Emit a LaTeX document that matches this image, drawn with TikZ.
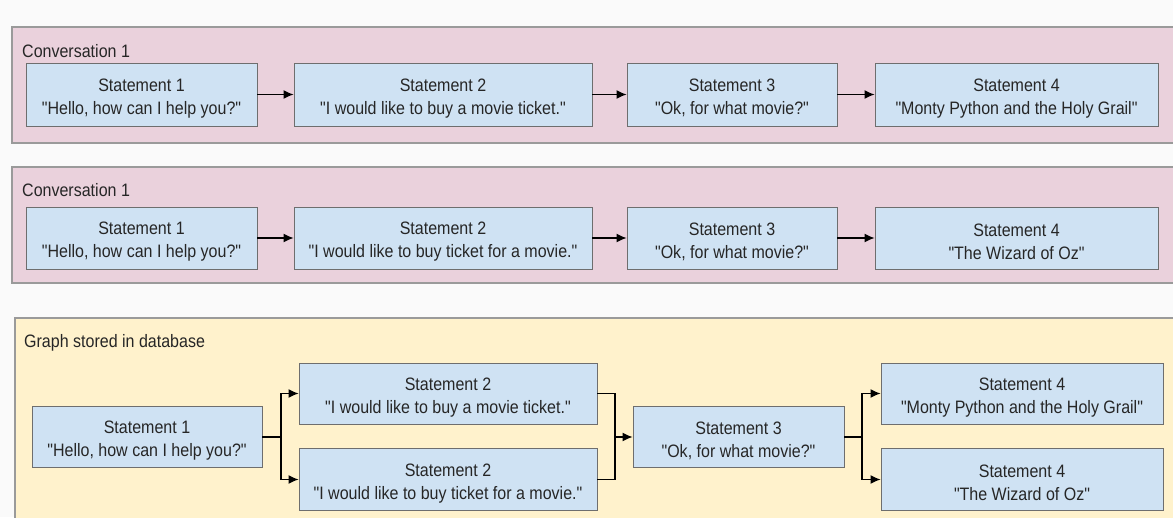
\documentclass[tikz,border=0pt]{standalone}
\usepackage{fontspec}
\setmainfont{Liberation Sans}[FakeStretch=0.89, Ligatures=TeXOff]
\usetikzlibrary{arrows.meta}
\newcommand{\dq}{\char34\relax}
\newcommand{\stmt}[2]{\rule{0pt}{20pt}#1\\\dq #2\dq}
\definecolor{bgc}{HTML}{FAFAFA}
\definecolor{pinkfill}{HTML}{EAD1DC}
\definecolor{yellowfill}{HTML}{FFF2CC}
\definecolor{panelline}{HTML}{9A9A9A}
\definecolor{boxfill}{HTML}{CFE2F3}
\definecolor{boxline}{HTML}{6E6E6E}
\definecolor{txt}{HTML}{262626}
\tikzset{
  panel/.style={draw=panelline, line width=1.2pt},
  stbox/.style={draw=boxline, fill=boxfill, line width=0.9pt, inner sep=0pt,
    align=center, text=txt, font=\fontsize{18}{23}\selectfont},
  lbl/.style={anchor=base west, inner sep=0pt, text=txt, font=\fontsize{18}{21}\selectfont},
  arr/.style={draw=black, line width=1.3pt, -{Latex[length=10pt,width=9pt]}},
  conn/.style={draw=black, line width=1.3pt},
}
\begin{document}
\begin{tikzpicture}[x=1pt,y=-1pt]
\useasboundingbox (0,0) rectangle (1173,517);
\clip (0,0) rectangle (1173,517);
\fill[bgc] (0,0) rectangle (1173,517);
% panels
\draw[panel, fill=pinkfill] (12,27) rectangle (1185,143);
\draw[panel, fill=pinkfill] (12,167) rectangle (1185,283);
\draw[panel, fill=yellowfill] (15,318) rectangle (1185,540);
\node[lbl] (l1) at (22,57) {Conversation 1};
\node[lbl] (l2) at (22,196) {Conversation 1};
\node[lbl] (l3) at (24,347) {Graph stored in database};
% conversation 1
\node[stbox, minimum width=231pt, minimum height=63pt] (a1) at (141.5,94.5) {\stmt{Statement 1}{Hello, how can I help you?}};
\node[stbox, minimum width=298pt, minimum height=63pt] (a2) at (443,94.5) {\stmt{Statement 2}{I would like to buy a movie ticket.}};
\node[stbox, minimum width=210pt, minimum height=63pt] (a3) at (732,94.5) {\stmt{Statement 3}{Ok, for what movie?}};
\node[stbox, minimum width=283pt, minimum height=63pt] (a4) at (1016.5,94.5) {\stmt{Statement 4}{Monty Python and the Holy Grail}};
\draw[arr] (a1) -- (a2);
\draw[arr] (a2) -- (a3);
\draw[arr] (a3) -- (a4);
% conversation 2
\node[stbox, minimum width=231pt, minimum height=62pt] (b1) at (141.5,238) {\stmt{Statement 1}{Hello, how can I help you?}};
\node[stbox, minimum width=298pt, minimum height=62pt] (b2) at (443,238) {\stmt{Statement 2}{I would like to buy ticket for a movie.}};
\node[stbox, minimum width=210pt, minimum height=62pt] (b3) at (732,238) {\stmt{Statement 3}{Ok, for what movie?}};
\node[stbox, minimum width=283pt, minimum height=62pt] (b4) at (1016.5,238) {\stmt{Statement 4}{The Wizard of Oz}};
\draw[arr] (b1) -- (b2);
\draw[arr] (b2) -- (b3);
\draw[arr] (b3) -- (b4);
% graph
\node[stbox, minimum width=230pt, minimum height=61pt] (c1) at (147,437) {\stmt{Statement 1}{Hello, how can I help you?}};
\node[stbox, minimum width=298pt, minimum height=61pt] (c2a) at (448,393.5) {\stmt{Statement 2}{I would like to buy a movie ticket.}};
\node[stbox, minimum width=298pt, minimum height=62pt] (c2b) at (448,479.5) {\stmt{Statement 2}{I would like to buy ticket for a movie.}};
\node[stbox, minimum width=211pt, minimum height=61pt] (c3) at (738.5,437) {\stmt{Statement 3}{Ok, for what movie?}};
\node[stbox, minimum width=282pt, minimum height=61pt] (c4a) at (1022,393.5) {\stmt{Statement 4}{Monty Python and the Holy Grail}};
\node[stbox, minimum width=282pt, minimum height=62pt] (c4b) at (1022,479.5) {\stmt{Statement 4}{The Wizard of Oz}};
\coordinate (s1) at (281,437);
\coordinate (m1) at (615,437);
\coordinate (s2) at (862,437);
\draw[conn] (c1.east) -- (s1);
\draw[arr] (s1) |- (c2a.west);
\draw[arr] (s1) |- (c2b.west);
\draw[conn] (c2a.east) -| (m1);
\draw[conn] (c2b.east) -| (m1);
\draw[arr] (m1) -- (c3.west);
\draw[conn] (c3.east) -- (s2);
\draw[arr] (s2) |- (c4a.west);
\draw[arr] (s2) |- (c4b.west);
\end{tikzpicture}
\end{document}
